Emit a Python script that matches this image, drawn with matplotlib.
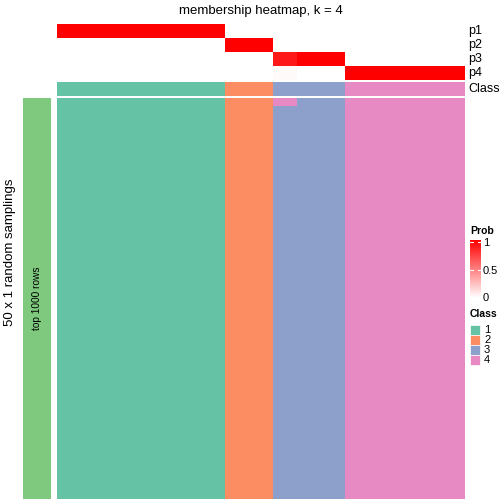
import numpy as np
import matplotlib
matplotlib.use('Agg')
import matplotlib.pyplot as plt
from matplotlib.colors import ListedColormap, LinearSegmentedColormap
from matplotlib.patches import Rectangle

plt.rcParams['font.family'] = ['Liberation Sans', 'DejaVu Sans']

# one column per sample, ordered by class
sample_class = [1, 1, 1, 1, 1, 1, 1, 2, 2, 3, 3, 3, 4, 4, 4, 4, 4]
p1 = [1, 1, 1, 1, 1, 1, 1, 0, 0, 0, 0, 0, 0, 0, 0, 0, 0]
p2 = [0, 0, 0, 0, 0, 0, 0, 1, 1, 0, 0, 0, 0, 0, 0, 0, 0]
p3 = [0, 0, 0, 0, 0, 0, 0, 0, 0, 0.9, 1, 1, 0, 0, 0, 0, 0]
p4 = [0, 0, 0, 0, 0, 0, 0, 0, 0, 0.02, 0, 0, 1, 1, 1, 1, 1]
row_labels = ['p1', 'p2', 'p3', 'p4']
n_samplings = 50
# sampling rows where a sample got a different class: (row, column, class)
odd_calls = [(0, 9, 4)]

class_colors = ['#66C2A5', '#FC8D62', '#8DA0CB', '#E78AC3']
class_names = ['1', '2', '3', '4']

W = H = 504
fig = plt.figure(figsize=(W / 100, H / 100), dpi=100)


def box(x0, y0, x1, y1):
    return [x0 / W, 1 - y1 / H, (x1 - x0) / W, (y1 - y0) / H]


prob_cmap = LinearSegmentedColormap.from_list('prob', ['white', 'red'])
class_cmap = ListedColormap(class_colors)

# probability rows
ax_p = fig.add_axes(box(57, 24, 465, 80))
prob = np.array([p1, p2, p3, p4])
ax_p.imshow(prob, cmap=prob_cmap, vmin=0, vmax=1, aspect='auto',
            interpolation='nearest')
ax_p.set_axis_off()
for i, lab in enumerate(row_labels):
    fig.text(468 / W, 1 - (24 + 14 * i + 7) / H, lab, fontsize=9,
             va='center', ha='left')

# class row
ax_c = fig.add_axes(box(57, 82, 465, 96))
ax_c.imshow(np.array([sample_class]) - 1, cmap=class_cmap, vmin=-0.5, vmax=3.5,
            aspect='auto', interpolation='nearest')
ax_c.set_axis_off()
fig.text(468 / W, 1 - 89 / H, 'Class', fontsize=9, va='center', ha='left')

# sampling rows
mem = np.tile(np.array(sample_class), (n_samplings, 1))
for r, c, k in odd_calls:
    mem[r, c] = k
ax_m = fig.add_axes(box(57, 98, 465, 499))
ax_m.imshow(mem - 1, cmap=class_cmap, vmin=-0.5, vmax=3.5, aspect='auto',
            interpolation='nearest')
ax_m.set_axis_off()

# left annotation bar
ax_l = fig.add_axes(box(23, 98, 51, 499))
ax_l.set_facecolor('#7FC97F')
ax_l.set_xticks([])
ax_l.set_yticks([])
for s in ax_l.spines.values():
    s.set_visible(False)
ax_l.text(0.5, 0.5, 'top 1000 rows', rotation=90, fontsize=7.3,
          ha='center', va='center', transform=ax_l.transAxes)
fig.text(10 / W, 1 - 252 / H, '50 x 1 random samplings', rotation=90,
         fontsize=9.5, ha='center', va='center')

fig.text(261 / W, 1 - 11 / H, 'membership heatmap, k = 4', fontsize=9.5,
         ha='center', va='center')

# Prob legend
fig.text(470 / W, 1 - 231 / H, 'Prob', fontsize=7.5, fontweight='bold',
         ha='left', va='center')
ax_cb = fig.add_axes(box(470, 240, 481, 298))
ax_cb.imshow(np.linspace(1, 0, 100).reshape(-1, 1), cmap=prob_cmap, vmin=0,
             vmax=1, aspect='auto', extent=[0, 1, 0, 1])
ax_cb.set_xlim(0, 1)
ax_cb.set_ylim(0, 1)
ax_cb.set_axis_off()
for v in [1, 0.5]:
    yy = 0.94 * v + 0.02
    ax_cb.plot([0, 0.25], [yy, yy], color='white', lw=0.8)
    ax_cb.plot([0.75, 1], [yy, yy], color='white', lw=0.8)
for v, lab in [(1, '1'), (0.5, '0.5'), (0, '0')]:
    fig.text(483 / W, 1 - (243 + (1 - v) * 55) / H, lab, fontsize=8,
             ha='left', va='center')

# Class legend
fig.text(470 / W, 1 - 314 / H, 'Class', fontsize=7.5, fontweight='bold',
         ha='left', va='center')
for i, (col, lab) in enumerate(zip(class_colors, class_names)):
    y0 = 325 + 10 * i
    fig.patches.append(Rectangle((470 / W, 1 - (y0 + 10) / H), 10 / W, 10 / H,
                                 transform=fig.transFigure, facecolor=col,
                                 edgecolor='white', lw=0.5))
    fig.text(484 / W, 1 - (y0 + 5) / H, lab, fontsize=8, ha='left',
             va='center')

fig.savefig('out.png', dpi=100)
